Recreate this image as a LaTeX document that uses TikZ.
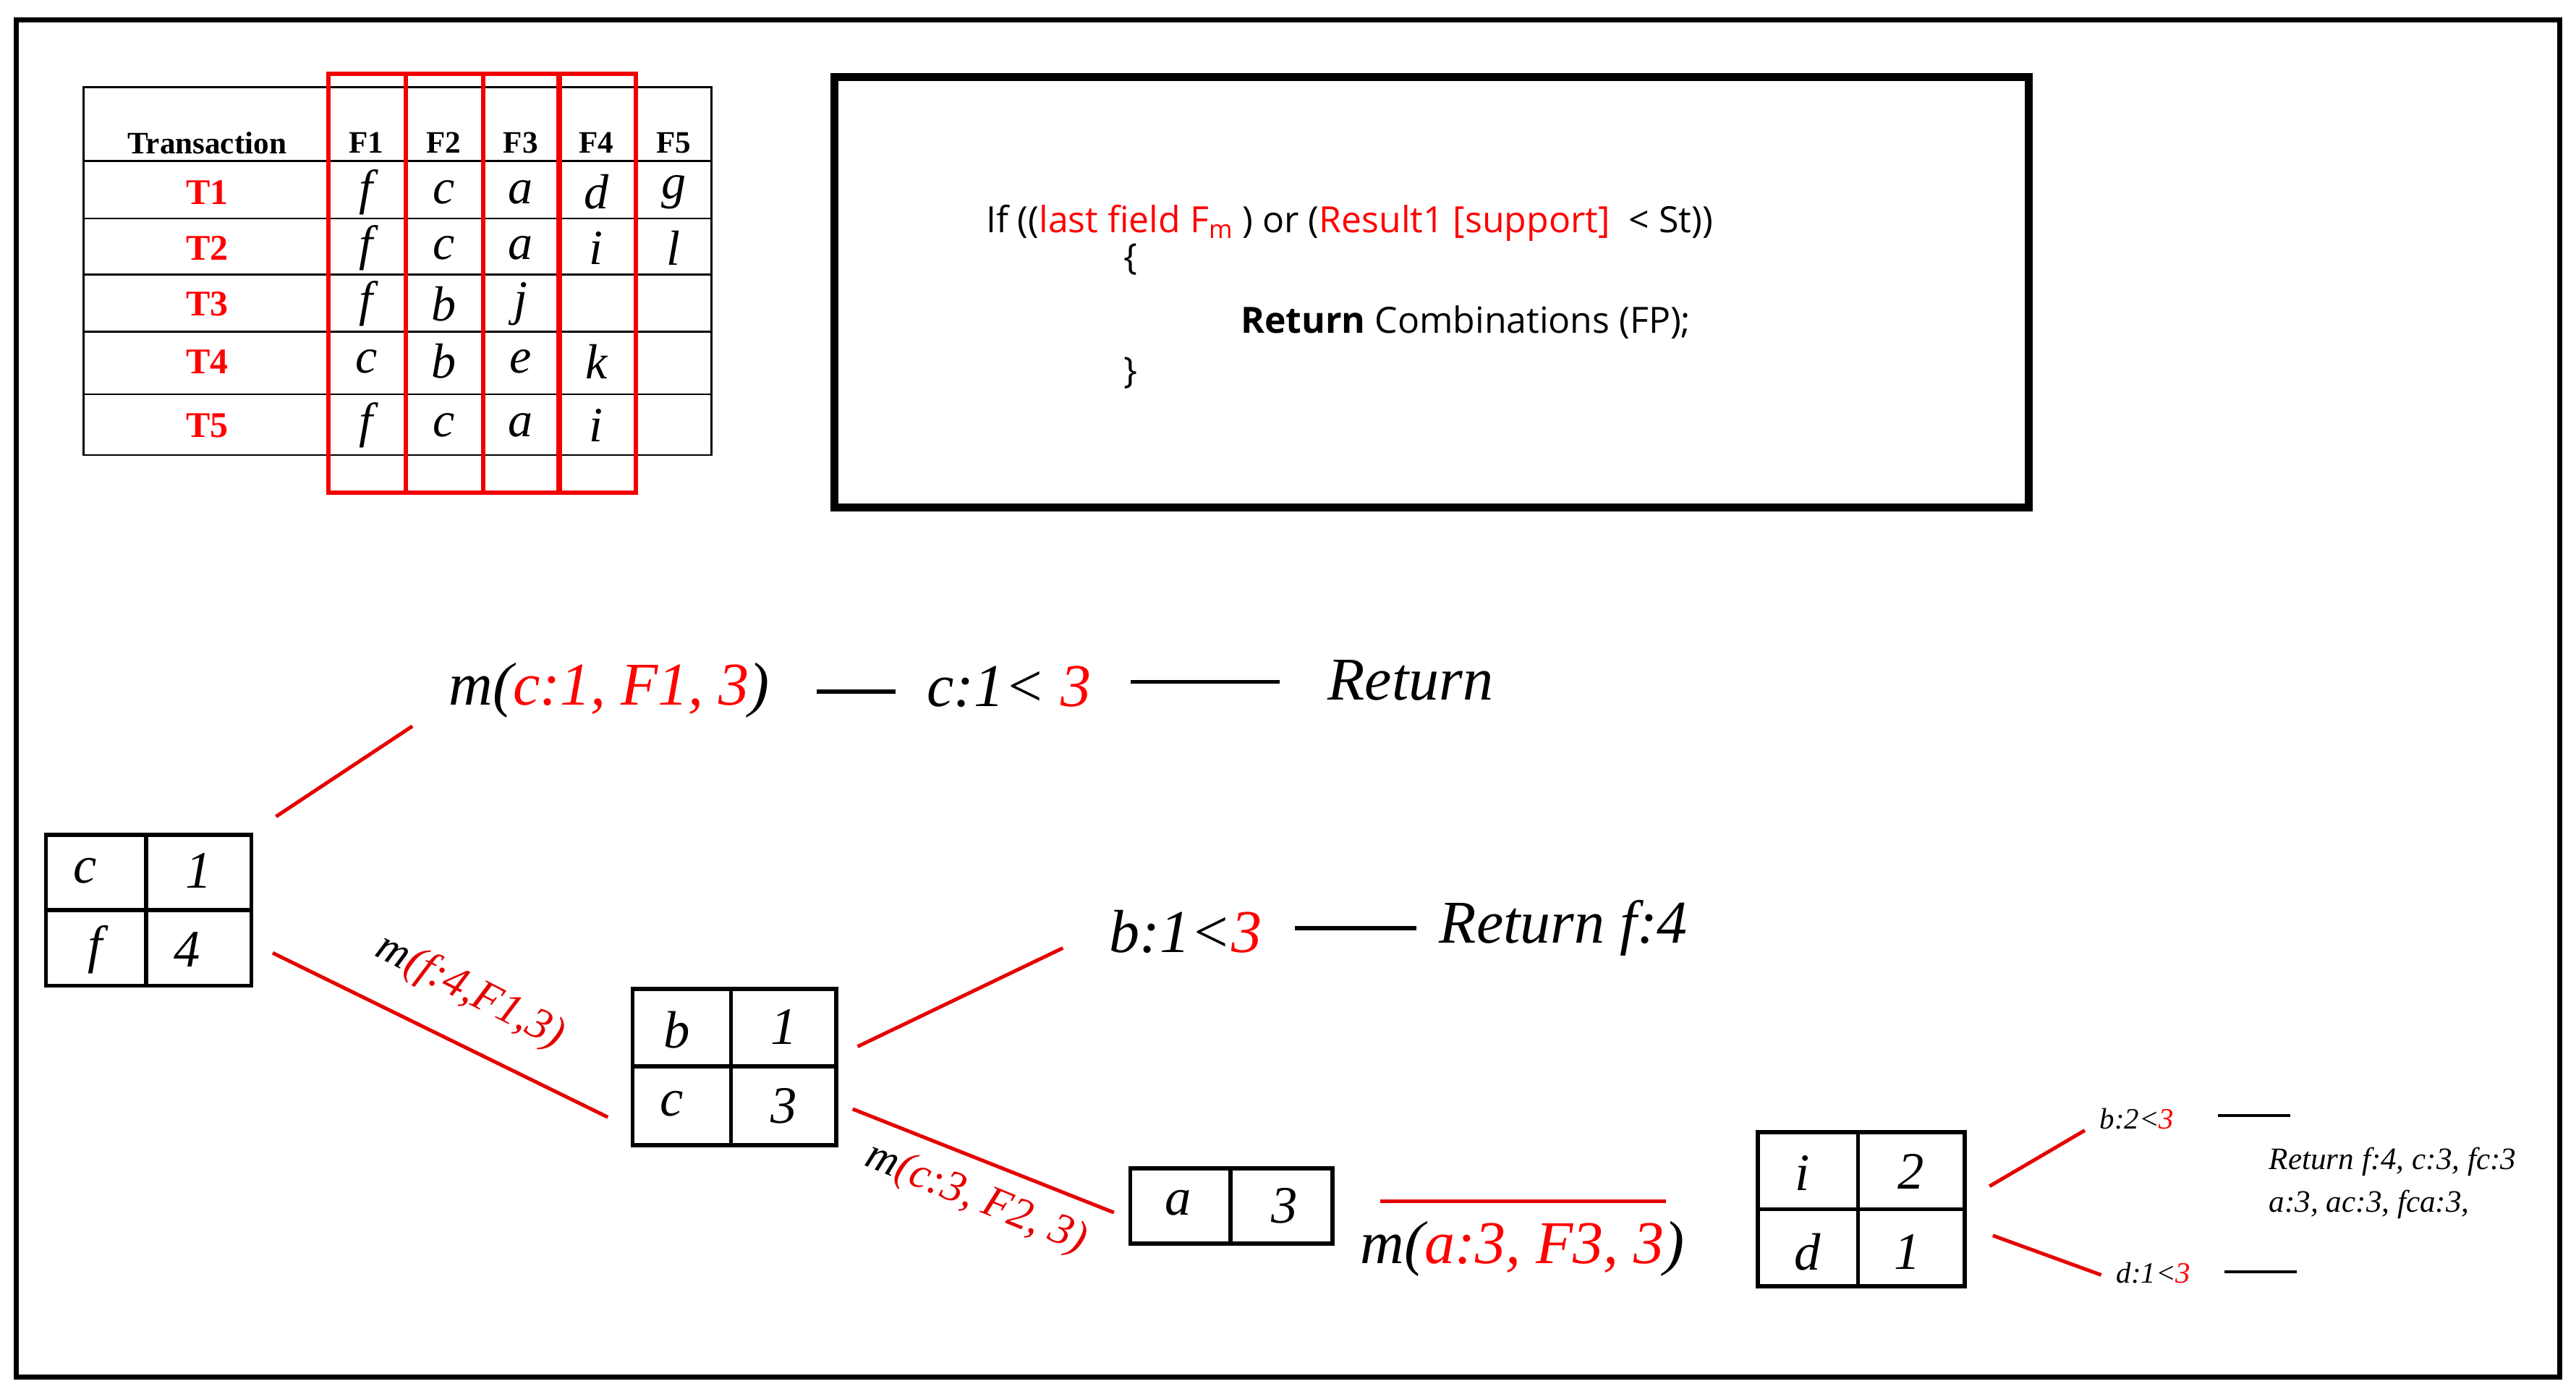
\documentclass[tikz,border=0pt]{standalone}
\usepackage{fontspec}
\setmainfont{Liberation Serif}
\newfontfamily\codefont{Open Sans}
\begin{document}
\begin{tikzpicture}[x=1pt,y=-1pt,
  rl/.style={draw=red!90!black,line width=2.2pt},
  bl/.style={draw=black,line width=2.5pt},
  cell/.style={font=\fontsize{32}{32}\selectfont\itshape,inner sep=0pt},
  tc/.style={font=\fontsize{30}{30}\selectfont\itshape,inner sep=0pt},
  big/.style={font=\fontsize{37}{37}\selectfont\itshape,inner sep=0pt,anchor=west},
  rot/.style={font=\fontsize{27}{27}\selectfont\itshape,inner sep=0pt,text=red!90!black}]
\useasboundingbox (0,0) rectangle (1568,845);
\fill[white] (0,0) rectangle (1568,845);
\draw[line width=3pt] (10,12) rectangle (1558,838);
% table
\draw[line width=1.2pt] (51,53) rectangle (433,277);
\foreach \y in {98,133,167,202,240} \draw[line width=1.2pt] (51,\y) -- (433,\y);
\foreach \x in {200,247,294,340,387} \draw[line width=1.2pt] (\x,53) -- (\x,277);
\foreach \x in {200,247,294,340} \draw[red!95!black,line width=2.5pt] (\x,45) rectangle ++(47,255);
\node[font=\bfseries\fontsize{19}{19}\selectfont] (th) at (126,87) {Transaction};
\foreach \t/\x in {F1/223,F2/270,F3/317,F4/363,F5/410}
  \node[font=\bfseries\fontsize{19}{19}\selectfont] (h\t) at (\x,87) {\t};
\foreach \r/\y in {1/117,2/151,3/185,4/220,5/259}
  \node[font=\bfseries\fontsize{22}{22}\selectfont,text=red] (t\r) at (126,\y) {T\r};
\foreach \y/\a/\b/\c/\d/\e in {117/f/c/a/d/g,151/f/c/a/i/l,185/f/b/j//,220/c/b/e/k/,259/f/c/a/i/}{
  \node[tc] at (223,\y) {\a}; \node[tc] at (270,\y) {\b}; \node[tc] at (317,\y) {\c};
  \node[tc] at (363,\y) {\d}; \node[tc] at (410,\y) {\e};}
% code box
\draw[line width=5pt] (508,47) rectangle (1235,309);
\node[anchor=west,font=\codefont\fontsize{22}{22}\selectfont,inner sep=0pt] (if) at (600,136)
  {If ((\textcolor{red}{last field F\textsubscript{m}} ) or (\textcolor{red}{Result1 [support]}~ < St))};
\node[font=\codefont\fontsize{22}{22}\selectfont,inner sep=0pt] (ob) at (688,158) {\{};
\node[anchor=west,font=\codefont\fontsize{22}{22}\selectfont,inner sep=0pt] (ret) at (755,196) {\textbf{Return} Combinations (FP);};
\node[font=\codefont\fontsize{22}{22}\selectfont,inner sep=0pt] (cb) at (688,227) {\}};
% box1
\draw[line width=2.5pt] (28,508) rectangle (153,600);
\draw[line width=2.5pt] (89,508) -- (89,600) (28,554) -- (153,554);
\node[cell] at (52,530) {c}; \node[cell] at (121,530) {1};
\node[cell] at (58,578) {f}; \node[cell] at (114,578) {4};
\node[big] (m1) at (273,420) {m(\textcolor{red}{c:1, F1, 3})};
\node[big] (c1) at (564,418) {c:1< \textcolor{red}{3}};
\node[big] (r1) at (808,414) {Return};
\coordinate (a1) at (168,497); \coordinate (a2) at (251,442);
\draw[rl] (a1) -- (a2);
\draw[bl] (497,421) -- (545,421);
\draw[bl] (688,415) -- (779,415);
% to box2
\coordinate (b1) at (166,580); \coordinate (b2) at (370,680);
\draw[rl] (b1) -- (b2);
\node[rot,rotate=-27] (l1) at (286,604) {\textcolor{black}{m}(f:4,F1,3)};
\draw[line width=2.5pt] (385,602) rectangle (509,697);
\draw[line width=2.5pt] (445,602) -- (445,697) (385,649) -- (509,649);
\node[cell] at (412,627) {b}; \node[cell] at (477,625) {1};
\node[cell] at (409,672) {c}; \node[cell] at (477,673) {3};
\draw[rl] (522,637) -- (647,577);
\node[big] (b1t) at (675,567) {b:1<\textcolor{red}{3}};
\draw[bl] (788,565) -- (862,565);
\node[big] (rf) at (876,565) {Return f:4};
\draw[rl] (519,675) -- (678,738);
\node[rot,rotate=-22] (l2) at (594,730) {\textcolor{black}{m}(c:3, F2, 3)};
% box3
\draw[line width=2.5pt] (688,711) rectangle (811,757);
\draw[line width=2.5pt] (749,711) -- (749,757);
\node[cell] at (717,732) {a}; \node[cell] at (782,734) {3};
\draw[rl] (840,731) -- (1014,731);
\node[big] (m3) at (828,760) {m(\textcolor{red}{a:3, F3, 3})};
% box4
\draw[line width=2.5pt] (1070,689) rectangle (1196,783);
\draw[line width=2.5pt] (1131,689) -- (1131,783) (1070,736) -- (1196,736);
\node[cell] at (1097,714) {i}; \node[cell] at (1163,713) {2};
\node[cell] at (1100,762) {d}; \node[cell] at (1161,762) {1};
\draw[rl] (1211,722) -- (1269,688);
\draw[rl] (1213,752) -- (1279,776);
\node[anchor=west,font=\fontsize{18}{18}\selectfont\itshape,inner sep=0pt] (bb) at (1278,681) {b:2<\textcolor{red}{3}};
\node[anchor=west,font=\fontsize{18}{18}\selectfont\itshape,inner sep=0pt] (dd) at (1288,775) {d:1<\textcolor{red}{3}};
\draw[line width=2pt] (1350,679) -- (1394,679);
\draw[line width=2pt] (1354,774) -- (1398,774);
\node[anchor=west,font=\fontsize{19}{26}\selectfont\itshape,inner sep=0pt,align=left] (rr) at (1381,720) {Return f:4, c:3, fc:3\\a:3, ac:3, fca:3,};
\end{tikzpicture}
\end{document}
